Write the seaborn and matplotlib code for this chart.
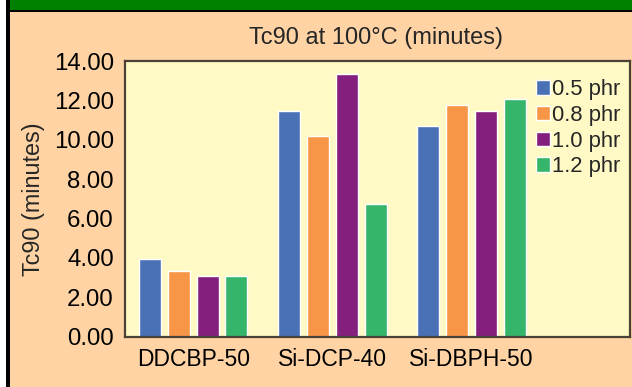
import matplotlib
matplotlib.use("Agg")
import matplotlib.pyplot as plt
import seaborn as sns
import pandas as pd
from matplotlib.patches import Rectangle

categories = ["DDCBP-50", "Si-DCP-40", "Si-DBPH-50"]
levels = ["0.5 phr", "0.8 phr", "1.0 phr", "1.2 phr"]
v05 = [3.95, 11.45, 10.70]
v08 = [3.35, 10.20, 11.75]
v10 = [3.05, 13.35, 11.45]
v12 = [3.05, 6.75, 12.05]
yticks = [0, 2, 4, 6, 8, 10, 12, 14]
title = "Tc90 at 100°C (minutes)"
ylabel = "Tc90 (minutes)"

colors = ["#4A71B6", "#F79647", "#851F7E", "#35B56A"]

rows = []
for lev, vals in zip(levels, [v05, v08, v10, v12]):
    for c, v in zip(categories, vals):
        rows.append({"cat": c, "phr": lev, "val": v})
df = pd.DataFrame(rows)

sns.set_theme(style="white")
plt.rcParams["font.family"] = ["Liberation Sans", "DejaVu Sans"]

W, H = 632, 387
fig = plt.figure(figsize=(W / 100, H / 100), dpi=100)
fig.patch.set_facecolor("#FFD3A3")

# decorative frame: white strip, black left line, green band, black line
def px_rect(x0, y0, x1, y1, color):
    fig.patches.append(Rectangle((x0 / W, 1 - y1 / H), (x1 - x0) / W, (y1 - y0) / H,
                                 transform=fig.transFigure, color=color, zorder=0, lw=0))

px_rect(0, 0, 6, H, "white")
px_rect(6, 0, 9.5, H, "black")
px_rect(9.5, 0, W, 9.5, "#007F00")
px_rect(9.5, 9.5, W, 12, "black")

ax = fig.add_axes([125 / W, 1 - 336.5 / H, (630 - 125) / W, (336.5 - 61) / H])
ax.set_facecolor("#FFF9C5")

sns.barplot(data=df, x="cat", y="val", hue="phr", order=categories, hue_order=levels,
            palette=colors, saturation=1, width=0.83, gap=0.24, ax=ax, legend=True)

ax.set_xlim(-0.49, 3.14)
ax.set_ylim(0, 14)
ax.set_yticks(yticks)
ax.set_yticklabels([f"{t:.2f}" for t in yticks], fontsize=17.3)
ax.tick_params(axis="both", length=0, colors="black")
ax.tick_params(axis="x", labelsize=16.5, pad=8)
ax.tick_params(axis="y", pad=8)
ax.set_xlabel("")
ax.set_ylabel("")
for s in ax.spines.values():
    s.set_color("#4A4236")
    s.set_linewidth(1.6)
    s.set_visible(True)

fig.text(376 / W, 1 - 38 / H, title, ha="center", va="center", fontsize=17)
fig.text(34 / W, 1 - 199 / H, ylabel, ha="center", va="center", rotation=90, fontsize=16.8)

handles, labels = ax.get_legend_handles_labels()
ax.legend(handles, labels, loc="upper left", bbox_to_anchor=(536 / W, 1 - 79 / H),
          bbox_transform=fig.transFigure, frameon=False, fontsize=15.8,
          handlelength=0.65, handleheight=0.65, handletextpad=0.1,
          labelspacing=0.22, borderpad=0, borderaxespad=0)

fig.savefig("out.png", dpi=100, facecolor=fig.get_facecolor())
